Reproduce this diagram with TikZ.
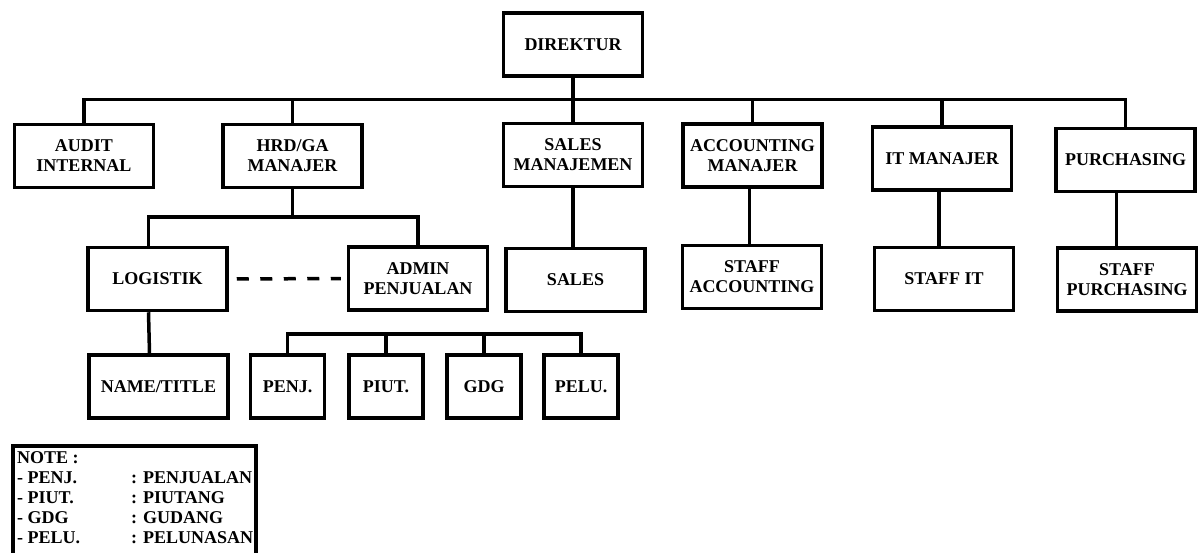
\documentclass[tikz,border=0pt]{standalone}
\usepackage{fontspec}
\setmainfont{Liberation Serif}
\usetikzlibrary{calc}

\tikzset{
    unit/.style={draw, line width=3.5pt, inner sep=0pt, align=center,
        minimum width=139pt, minimum height=63pt,
        font=\bfseries\fontsize{18}{20}\selectfont},
    subunit/.style={unit, minimum width=74pt},
    link/.style={line width=3.5pt},
}

\begin{document}
\begin{tikzpicture}[x=1pt, y=-1pt]
    \useasboundingbox (0,0) rectangle (1201,553);

    % top level
    \node[unit] (direktur) at (573, 44.5) {DIREKTUR};

    \node[unit] (audit)    at (84, 156)      {AUDIT\\INTERNAL};
    \node[unit] (hrd)      at (292.5, 156)   {HRD/GA\\MANAJER};
    \node[unit] (salesmgr) at (573, 155)     {SALES\\MANAJEMEN};
    \node[unit] (acctmgr)  at (752.5, 155.5) {ACCOUNTING\\MANAJER};
    \node[unit] (itmgr)    at (942, 158.5)   {IT MANAJER};
    \node[unit] (purch)    at (1125.5, 160)  {PURCHASING};

    % second level
    \node[unit] (logistik) at (157.5, 279)   {LOGISTIK};
    \node[unit] (admin)    at (418, 278.5)   {ADMIN\\PENJUALAN};
    \node[unit] (sales)    at (575.5, 280)   {SALES};
    \node[unit] (staffacc) at (752, 277)     {STAFF\\ACCOUNTING};
    \node[unit] (staffit)  at (944, 279)     {STAFF IT};
    \node[unit] (staffpur) at (1127, 279.5)  {STAFF\\PURCHASING};

    % third level
    \node[unit]    (nametitle) at (158.5, 386.5) {NAME/TITLE};
    \node[subunit] (penj)      at (287.5, 386.5) {PENJ.};
    \node[subunit] (piut)      at (386, 386.5)   {PIUT.};
    \node[subunit] (gdg)       at (484, 386.5)   {GDG};
    \node[subunit] (pelu)      at (581, 386.5)   {PELU.};

    % lines
    \foreach \n in {audit,hrd,salesmgr,acctmgr,itmgr,purch}
        \draw[link] (direktur.south) -- ++(0,22) -| (\n.north);

    \draw[link] (hrd.south) -- ++(0,28) -| ([xshift=-9pt]logistik.north);
    \draw[link] (hrd.south) -- ++(0,28) -| (admin.north);
    \draw[link, dash pattern=on 12pt off 11.5pt, shorten <=8pt, shorten >=6pt]
        (logistik.east) -- (admin.west);
    \draw[link] ([xshift=-9pt]logistik.south) -- ([xshift=-9pt]nametitle.north);

    \draw[link] (salesmgr.south) -- (sales.north -| salesmgr.south);
    \draw[link] ([xshift=-3pt]acctmgr.south) -- ([xshift=-3pt]acctmgr.south |- staffacc.north);
    \draw[link] ([xshift=-3pt]itmgr.south) -- ([xshift=-3pt]itmgr.south |- staffit.north);
    \draw[link] ([xshift=-9pt]purch.south) -- ([xshift=-9pt]purch.south |- staffpur.north);

    \coordinate (subbus) at (0, 334);
    \foreach \n in {penj,piut,gdg,pelu}
        \draw[link] (\n.north) -- (\n.north |- subbus);
    \draw[link, line cap=rect] (penj.north |- subbus) -- (pelu.north |- subbus);

    % note
    \draw[line width=3.5pt] (13, 570) -- (13, 446) -- (256, 446) -- (256, 570);
    \node[anchor=north west, inner sep=0pt, align=left,
        font=\bfseries\fontsize{18}{20}\selectfont] (note) at (17, 451.5)
        {NOTE :\\
         \makebox[114pt][l]{- PENJ.}: PENJUALAN\\
         \makebox[114pt][l]{- PIUT.}: PIUTANG\\
         \makebox[114pt][l]{- GDG}: GUDANG\\
         \makebox[114pt][l]{- PELU.}: PELUNASAN};
\end{tikzpicture}
\end{document}
